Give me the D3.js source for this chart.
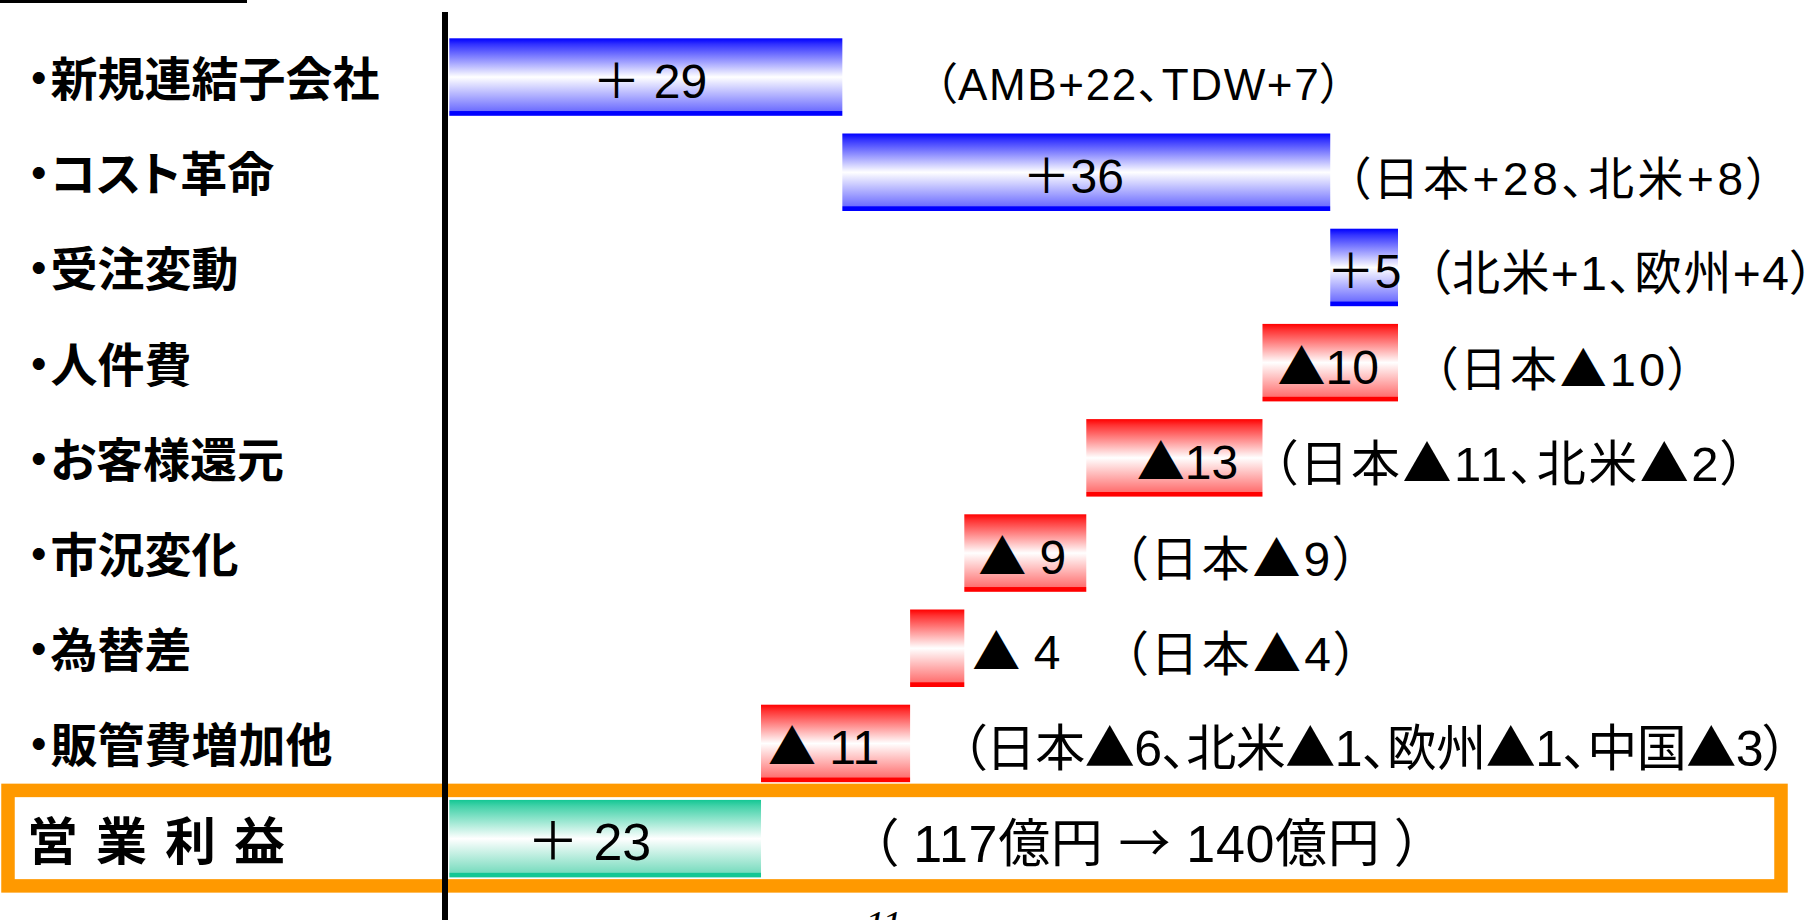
<!DOCTYPE html>
<html>
<head>
<meta charset="utf-8">
<script src="https://cdn.jsdelivr.net/npm/d3@7"></script>
<style>
  html, body { margin: 0; padding: 0; background: #fff; overflow: hidden; }
  svg { display: block; }
  text { font-feature-settings: "palt" 1; }
</style>
</head>
<body>
<svg id="chart" width="1816" height="920"></svg>
<script>
// 営業利益 増減要因（億円）
const categories = ["新規連結子会社", "コスト革命", "受注変動", "人件費", "お客様還元", "市況変化", "為替差", "販管費増加他"];
const deltas = [29, 36, 5, -10, -13, -9, -4, -11];
const valueLabels = ["＋ 29", "＋36", "＋5", "▲10", "▲13", "▲ 9", "▲ 4", "▲ 11"];
const breakdowns = [
  "（AMB+22、TDW+7）",
  "（日本+28、北米+8）",
  "（北米+1、欧州+4）",
  "（日本▲10）",
  "（日本▲11、北米▲2）",
  "（日本▲9）",
  "（日本▲4）",
  "（日本▲6、北米▲1、欧州▲1、中国▲3）"
];
const totalName = "営業利益";
const profitBefore = 117;
const profitAfter = 140;
const pageNumber = "11";

// layout
const W = 1816, H = 920;
const sansFont = "'Liberation Sans', 'Noto Sans CJK JP', sans-serif";
const cjkFont = "'Noto Sans CJK JP', sans-serif";
const valueNudges = [4, -13, 0, -2, 13, -3, 0, -12, -16];
const noteGaps = [92, 16.5, 28.5, 35.5, 10, 37, 159, 51, 110.5];
const noteSizes = [44, 46, 48, 47, 49, 48, 48, 50, 52];
const noteWidths = [408, 423, 388, 258, 473, 234, 235, 827, 550];

// waterfall steps
let running = 0;
const rows = categories.map((name, i) => {
  const start = running;
  running += deltas[i];
  return { name, label: "・" + name, start, end: running, delta: deltas[i],
           valueText: valueLabels[i], note: breakdowns[i], total: false };
});
const totalDelta = profitAfter - profitBefore;
rows.push({ name: totalName, label: totalName, start: 0, end: totalDelta, delta: totalDelta,
            valueText: "＋ " + totalDelta,
            note: "（ " + profitBefore + "億円 → " + profitAfter + "億円 ）", total: true });

const svg = d3.select("#chart");

const x = d3.scaleLinear()
  .domain([0, d3.max(rows, r => Math.max(r.start, r.end))])
  .range([449.3, 1398]);

const y = d3.scaleBand()
  .domain(rows.map(r => r.name))
  .range([20.6, 895.1])
  .padding(0.186);

// bar gradients: colour at the edges, white in the middle, solid rim at the bottom
const defs = svg.append("defs");
const palettes = { up: ["#0000ff", "#6e6eff"], down: ["#ff0000", "#ff7070"], total: ["#14c794", "#7adcbf"] };
Object.entries(palettes).forEach(([key, [c, mid]]) => {
  const g = defs.append("linearGradient").attr("id", "grad-" + key)
    .attr("x1", 0).attr("y1", 0).attr("x2", 0).attr("y2", 1);
  [[0, c], [0.08, d3.interpolateRgb(c, "#fff")(0.2)], [0.5, "#ffffff"], [0.935, mid], [0.945, c], [1, c]]
    .forEach(([o, col]) => g.append("stop").attr("offset", o).attr("stop-color", col));
});
const kind = r => r.total ? "total" : (r.delta >= 0 ? "up" : "down");

// bars
svg.append("g").selectAll("rect").data(rows).join("rect")
  .attr("x", r => x(Math.min(r.start, r.end)))
  .attr("y", r => y(r.name))
  .attr("width", r => Math.abs(x(r.end) - x(r.start)))
  .attr("height", y.bandwidth())
  .attr("fill", r => "url(#grad-" + kind(r) + ")");

// highlight frame round the total row
svg.append("rect")
  .attr("x", 8).attr("y", y(totalName) - 9.5)
  .attr("width", 1773).attr("height", y.bandwidth() + 18)
  .attr("fill", "none").attr("stroke", "#ff9900").attr("stroke-width", 13.5);

// baseline axis
svg.append("line")
  .attr("x1", x(0) - 4.3).attr("x2", x(0) - 4.3)
  .attr("y1", 12).attr("y2", H)
  .attr("stroke", "#000").attr("stroke-width", 6);

// short rule at the top left
svg.append("line")
  .attr("x1", 0).attr("x2", 247).attr("y1", 1.5).attr("y2", 1.5)
  .attr("stroke", "#000").attr("stroke-width", 3);

const cy = r => y(r.name) + y.bandwidth() / 2;

// symbols such as ▲ and → come from the CJK face so they keep full width
function fillRuns(sel, str) {
  str.split(/([▲→])/).filter(s => s.length).forEach(part => {
    const ts = sel.append("tspan").text(part);
    if (/^[▲→]$/.test(part)) ts.attr("font-family", cjkFont);
  });
}

// category labels
svg.append("g").selectAll("text").data(rows).join("text")
  .attr("x", 27)
  .attr("y", r => cy(r) + (r.total ? 21 : 19))
  .attr("font-family", cjkFont)
  .attr("font-weight", 700)
  .attr("font-size", r => r.total ? 51 : 47)
  .attr("letter-spacing", r => r.total ? 18 : 0)
  .attr("fill", "#000")
  .text(r => r.label);

// value labels: centred in the bar, or just after it when the bar is too short
const valueG = svg.append("g");
rows.forEach((r, i) => {
  const left = x(Math.min(r.start, r.end)), right = x(Math.max(r.start, r.end));
  const t = valueG.append("text")
    .attr("y", cy(r) + 21)
    .attr("font-family", sansFont)
    .attr("font-size", r.total ? 52 : 48)
    .attr("fill", "#000");
  fillRuns(t, r.valueText);
  const w = t.node().getComputedTextLength();
  if (w <= right - left + 12) {
    t.attr("x", (left + right) / 2 + valueNudges[i]).attr("text-anchor", "middle");
  } else {
    t.attr("x", right + 8 + valueNudges[i]);
  }
  r.barRight = right;
});

// breakdown notes
const noteG = svg.append("g");
rows.forEach((r, i) => {
  const t = noteG.append("text")
    .attr("x", r.barRight + noteGaps[i])
    .attr("y", cy(r) + 23)
    .attr("font-family", sansFont)
    .attr("font-size", noteSizes[i])
    .attr("textLength", noteWidths[i])
    .attr("lengthAdjust", "spacing")
    .attr("fill", "#000");
  fillRuns(t, r.note);
});

// page number
svg.append("text")
  .attr("x", 865).attr("y", 938)
  .attr("font-family", "'Liberation Serif', serif")
  .attr("font-style", "italic")
  .attr("font-size", 40)
  .attr("fill", "#000")
  .text(pageNumber);
</script>
</body>
</html>
